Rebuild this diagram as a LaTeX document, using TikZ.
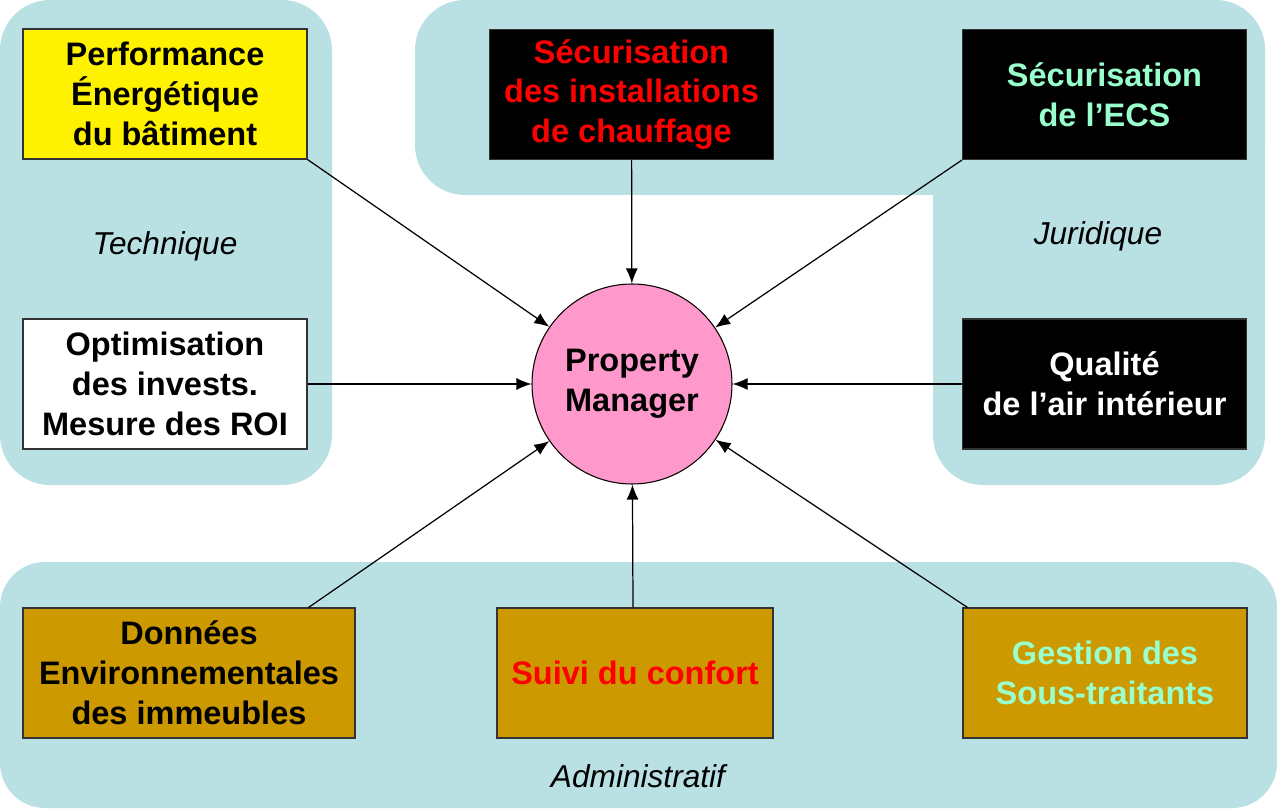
\documentclass[tikz,border=0pt]{standalone}
\usepackage{fontspec}
\setmainfont{Liberation Sans}
\usetikzlibrary{arrows.meta}
\definecolor{zone}{HTML}{B9E0E3}
\definecolor{rose}{HTML}{FF99CC}
\definecolor{ocre}{HTML}{CC9900}
\definecolor{menthe}{HTML}{99FFCC}
\begin{document}
\begin{tikzpicture}
          \tikzstyle{every node}=[font=\fontsize{18.5}{22.7}\selectfont\bfseries,align=center];
          \tikzstyle{bloc}=[draw=black!80,line width=0.6pt,minimum width=5.68cm,minimum height=2.6cm,inner sep=2pt];
          \tikzstyle{zonetxt}=[font=\fontsize{18}{22}\selectfont\itshape];
          \tikzstyle{fleche}=[-{Latex[length=3mm,width=2.4mm]},line width=0.7pt];
          \useasboundingbox (0,0) rectangle (25.54,-16.2);
          % zones
          \fill[zone,rounded corners=1cm] (0,0) rectangle (6.64,-9.7);
          \fill[zone,rounded corners=1cm] (8.3,0) rectangle (25.3,-3.9);
          \fill[zone,rounded corners=1cm] (18.66,0) rectangle (25.3,-9.7);
          \fill[zone,rounded corners=0.9cm] (0,-11.24) rectangle (25.54,-16.16);
          \node[zonetxt] (tech) at (3.3,-4.92) {Technique};
          \node[zonetxt] (jur) at (21.96,-4.72) {Juridique};
          \node[zonetxt] (adm) at (12.76,-15.52) {Administratif};
          % centre
          \node[draw,circle,fill=rose,line width=0.6pt,minimum size=4cm] (pm) at (12.64,-7.68) {Property\\Manager};
          % blocs
          \node[bloc,fill=yellow] (perf) at (3.3,-1.88) {Performance\\Énergétique\\du bâtiment};
          \node[bloc,fill=white] (optim) at (3.3,-7.68) {Optimisation\\des invests.\\Mesure des ROI};
          \node[bloc,fill=black,text=red] (chauf) at (12.63,-1.89) {Sécurisation\\des installations\\de chauffage};
          \node[bloc,fill=black,text=menthe] (ecs) at (22.09,-1.89) {Sécurisation\\de l’ECS};
          \node[bloc,fill=black,text=white] (air) at (22.09,-7.68) {Qualité\\de l’air intérieur};
          \node[bloc,fill=ocre,minimum width=6.64cm] (donn) at (3.78,-13.46) {Données\\Environnementales\\des immeubles};
          \node[bloc,fill=ocre,text=red,minimum width=5.52cm] (suivi) at (12.7,-13.46) {Suivi du confort};
          \node[bloc,fill=ocre,text=menthe] (gest) at (22.1,-13.46) {Gestion des\\Sous-traitants};
          % fleches
          \draw[fleche] (perf.south east) -- (pm);
          \draw[fleche] (optim) -- (pm);
          \draw[fleche] (chauf) -- (pm);
          \draw[fleche] (ecs.south west) -- (pm);
          \draw[fleche] (air) -- (pm);
          \draw[fleche] ([xshift=-0.94cm]donn.north east) -- (pm);
          \draw[fleche] ([xshift=-0.04cm]suivi.north) -- (pm);
          \draw[fleche] ([xshift=0.1cm]gest.north west) -- (pm);
\end{tikzpicture}
\end{document}
